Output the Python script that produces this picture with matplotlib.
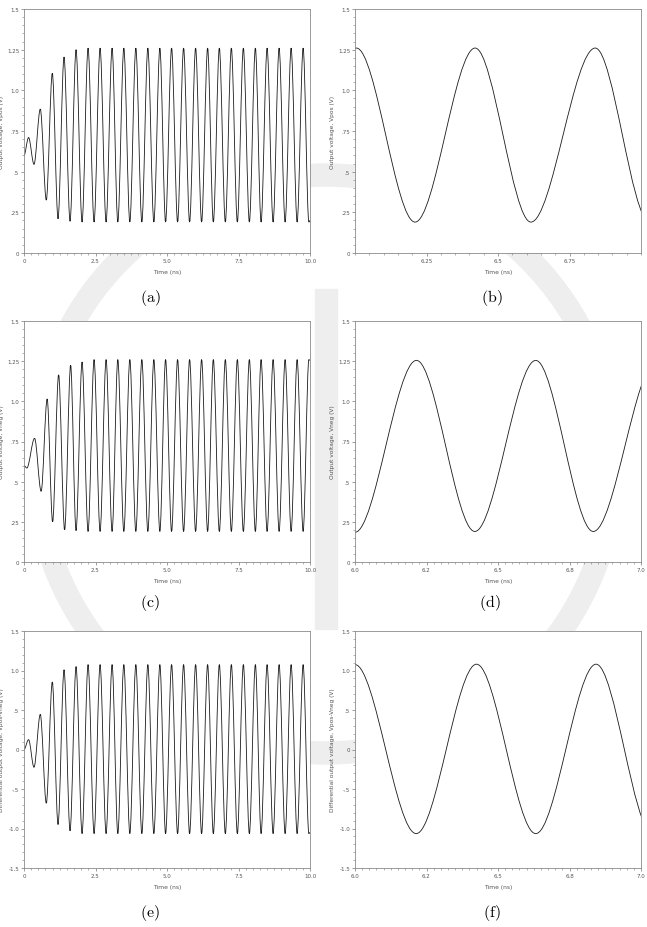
import matplotlib
matplotlib.use("Agg")
import matplotlib.pyplot as plt
from matplotlib.path import Path
from matplotlib.patches import PathPatch, Wedge, Rectangle

# turning points of each waveform (time in ns, voltage in V)
vpos_t = [0.00, 0.16, 0.35, 0.57, 0.78, 0.99, 1.19, 1.40, 1.61, 1.82, 2.03,
          2.24, 2.45, 2.66, 2.87, 3.08, 3.28, 3.49, 3.70, 3.91, 4.12, 4.33,
          4.54, 4.75, 4.95, 5.16, 5.37, 5.58, 5.79, 6.00, 6.21, 6.42, 6.62,
          6.83, 7.04, 7.25, 7.46, 7.67, 7.88, 8.09, 8.29, 8.50, 8.71, 8.92,
          9.13, 9.34, 9.55, 9.76, 9.96, 10.0]
vpos_v = [0.60, 0.71, 0.545, 0.885, 0.325, 1.105, 0.21, 1.205, 0.195, 1.25, 0.19,
          1.26, 0.19, 1.26, 0.19, 1.26, 0.19, 1.26, 0.19, 1.26, 0.19, 1.26,
          0.19, 1.26, 0.19, 1.26, 0.19, 1.26, 0.19, 1.26, 0.19, 1.26, 0.19,
          1.26, 0.19, 1.26, 0.19, 1.26, 0.19, 1.26, 0.19, 1.26, 0.19, 1.26,
          0.19, 1.26, 0.19, 1.26, 0.19, 0.20]

vneg_t = [0.00, 0.10, 0.37, 0.60, 0.81, 1.00, 1.21, 1.42, 1.63, 1.82, 2.03,
          2.24, 2.45, 2.66, 2.87, 3.08, 3.28, 3.49, 3.70, 3.91, 4.12, 4.33,
          4.54, 4.75, 4.95, 5.16, 5.37, 5.58, 5.79, 6.00, 6.21, 6.42, 6.62,
          6.83, 7.04, 7.25, 7.46, 7.67, 7.88, 8.09, 8.29, 8.50, 8.71, 8.92,
          9.13, 9.34, 9.55, 9.76, 9.96, 10.0]
vneg_v = [0.60, 0.585, 0.77, 0.44, 1.015, 0.25, 1.165, 0.20, 1.225, 0.195, 1.245,
          0.19, 1.26, 0.19, 1.26, 0.19, 1.26, 0.19, 1.26, 0.19, 1.26, 0.19,
          1.26, 0.19, 1.26, 0.19, 1.26, 0.19, 1.26, 0.19, 1.26, 0.19, 1.26,
          0.19, 1.26, 0.19, 1.26, 0.19, 1.26, 0.19, 1.26, 0.19, 1.26, 0.19,
          1.26, 0.19, 1.26, 0.19, 1.26, 1.255]

vdiff_t = vpos_t
vdiff_v = [0.0, 0.125, -0.225, 0.445, -0.68, 0.855, -0.95, 1.01, -1.03, 1.05, -1.065,
           1.075, -1.065, 1.075, -1.065, 1.075, -1.065, 1.075, -1.065, 1.075, -1.065, 1.075,
           -1.065, 1.075, -1.065, 1.075, -1.065, 1.075, -1.065, 1.075, -1.065, 1.075, -1.065,
           1.075, -1.065, 1.075, -1.065, 1.075, -1.065, 1.075, -1.065, 1.075, -1.065, 1.075,
           -1.065, 1.075, -1.065, 1.075, -1.065, -1.05]

# zoomed windows 6..7 ns
zpos_t = [5.795, 6.005, 6.21, 6.42, 6.615, 6.84, 7.03]
zpos_v = [0.19, 1.26, 0.19, 1.26, 0.19, 1.26, 0.19]
zneg_t = [5.79, 6.00, 6.215, 6.419, 6.632, 6.833, 7.055]
zneg_v = [1.255, 0.185, 1.255, 0.19, 1.255, 0.19, 1.255]
zdiff_t = [5.79, 6.00, 6.214, 6.425, 6.632, 6.843, 7.04]
zdiff_v = [-1.065, 1.075, -1.065, 1.08, -1.065, 1.08, -1.065]

long_ticks = [0, 2.5, 5.0, 7.5, 10.0]
long_ticklabels = ["0", "2.5", "5.0", "7.5", "10.0"]
b_ticks = [6.25, 6.5, 6.75]
b_ticklabels = ["6.25", "6.5", "6.75"]
d_ticks = [6.0, 6.25, 6.5, 6.75, 7.0]
d_ticklabels = ["6.0", "6.2", "6.5", "6.8", "7.0"]
v_ticks = [0, 0.25, 0.5, 0.75, 1.0, 1.25, 1.5]
v_ticklabels = ["0", ".25", ".5", ".75", "1.0", "1.25", "1.5"]
d_vticks = [-1.5, -1.0, -0.5, 0, 0.5, 1.0, 1.5]
d_vticklabels = ["-1.5", "-1.0", "-.5", "0", ".5", "1.0", "1.5"]

W, H = 647, 928
fig = plt.figure(figsize=(W / 100, H / 100), dpi=100)
plt.rcParams["mathtext.fontset"] = "cm"

# faint seal watermark behind the plots (inches from bottom-left)
wm = "#eeeeee"
fig.patches.append(Wedge((3.25, (H - 465) / 100), 3.0, 0, 360, width=0.22,
                         transform=fig.dpi_scale_trans, color=wm, zorder=-10))
fig.patches.append(Rectangle((3.15, (H - 630) / 100), 0.22, 3.4,
                             transform=fig.dpi_scale_trans, color=wm, zorder=-10))


def waveform(ax, ts, vs):
    # smooth curve through the turning points, flat at each one
    verts = [(ts[0], vs[0])]
    codes = [Path.MOVETO]
    for i in range(1, len(ts)):
        dt = ts[i] - ts[i - 1]
        verts += [(ts[i - 1] + dt / 3, vs[i - 1]), (ts[i] - dt / 3, vs[i]), (ts[i], vs[i])]
        codes += [Path.CURVE4] * 3
    ax.add_patch(PathPatch(Path(verts, codes), fill=False, ec="#1a1a1a", lw=0.6))


def panel(box, ts, vs, xlim, xticks, xlabels, xminor, ylim, yticks, ylabels, yminor, ylabel, cap, capxy):
    l, t, r, b = box
    ax = fig.add_axes([l / W, 1 - b / H, (r - l) / W, (b - t) / H])
    ax.set_facecolor("white")
    waveform(ax, ts, vs)
    ax.set_xlim(xlim)
    ax.set_ylim(ylim)
    ax.set_xticks(xticks)
    ax.set_xticklabels(xlabels)
    ax.set_xticks(xminor, minor=True)
    ax.set_yticks(yticks)
    ax.set_yticklabels(ylabels)
    ax.set_yticks(yminor, minor=True)
    for s in ax.spines.values():
        s.set_color("#8a8a8a")
        s.set_linewidth(0.6)
    ax.tick_params(which="major", length=2.5, width=0.5, color="#777777",
                   labelsize=4, labelcolor="#555555", pad=1)
    ax.tick_params(which="minor", length=1.3, width=0.4, color="#777777")
    ax.set_xlabel("Time (ns)", fontsize=4.3, color="#555555")
    ax.xaxis.set_label_coords(0.5, -0.066)
    ax.set_ylabel(ylabel, fontsize=4.2, color="#555555")
    ax.yaxis.set_label_coords(-0.07, 0.5)
    fig.text(capxy[0] / W, 1 - capxy[1] / H, cap, fontsize=11.5, ha="center", va="center")
    return ax


long_minor = [i * 0.25 for i in range(41)]
b_minor = [6 + i * 0.05 for i in range(21)]
d_minor = [6 + i * 0.025 for i in range(41)]
v_minor = [i * 0.05 for i in range(31)]
dv_minor = [-1.5 + i * 0.1 for i in range(31)]

panel((24, 10, 310, 254), vpos_t, vpos_v, (0, 10), long_ticks, long_ticklabels, long_minor,
      (0, 1.5), v_ticks, v_ticklabels, v_minor, "Output voltage, Vpos (V)", r"$\mathrm{(a)}$", (150, 298))
panel((355, 10, 641, 254), zpos_t, zpos_v, (6, 7), b_ticks, b_ticklabels, b_minor,
      (0, 1.5), v_ticks, v_ticklabels, v_minor, "Output voltage, Vpos (V)", r"$\mathrm{(b)}$", (492, 298))
panel((24, 322, 310, 563), vneg_t, vneg_v, (0, 10), long_ticks, long_ticklabels, long_minor,
      (0, 1.5), v_ticks, v_ticklabels, v_minor, "Output voltage, Vneg (V)", r"$\mathrm{(c)}$", (150, 603))
panel((355, 322, 641, 563), zneg_t, zneg_v, (6, 7), d_ticks, d_ticklabels, d_minor,
      (0, 1.5), v_ticks, v_ticklabels, v_minor, "Output voltage, Vneg (V)", r"$\mathrm{(d)}$", (490, 603))
panel((24, 632, 310, 869), vdiff_t, vdiff_v, (0, 10), long_ticks, long_ticklabels, long_minor,
      (-1.5, 1.5), d_vticks, d_vticklabels, dv_minor, "Differential output voltage, Vpos-Vneg (V)",
      r"$\mathrm{(e)}$", (150, 913))
panel((355, 632, 641, 869), zdiff_t, zdiff_v, (6, 7), d_ticks, d_ticklabels, d_minor,
      (-1.5, 1.5), d_vticks, d_vticklabels, dv_minor, "Differential output voltage, Vpos-Vneg (V)",
      r"$\mathrm{(f)}$", (492, 913))

fig.savefig("out.png", dpi=100)
